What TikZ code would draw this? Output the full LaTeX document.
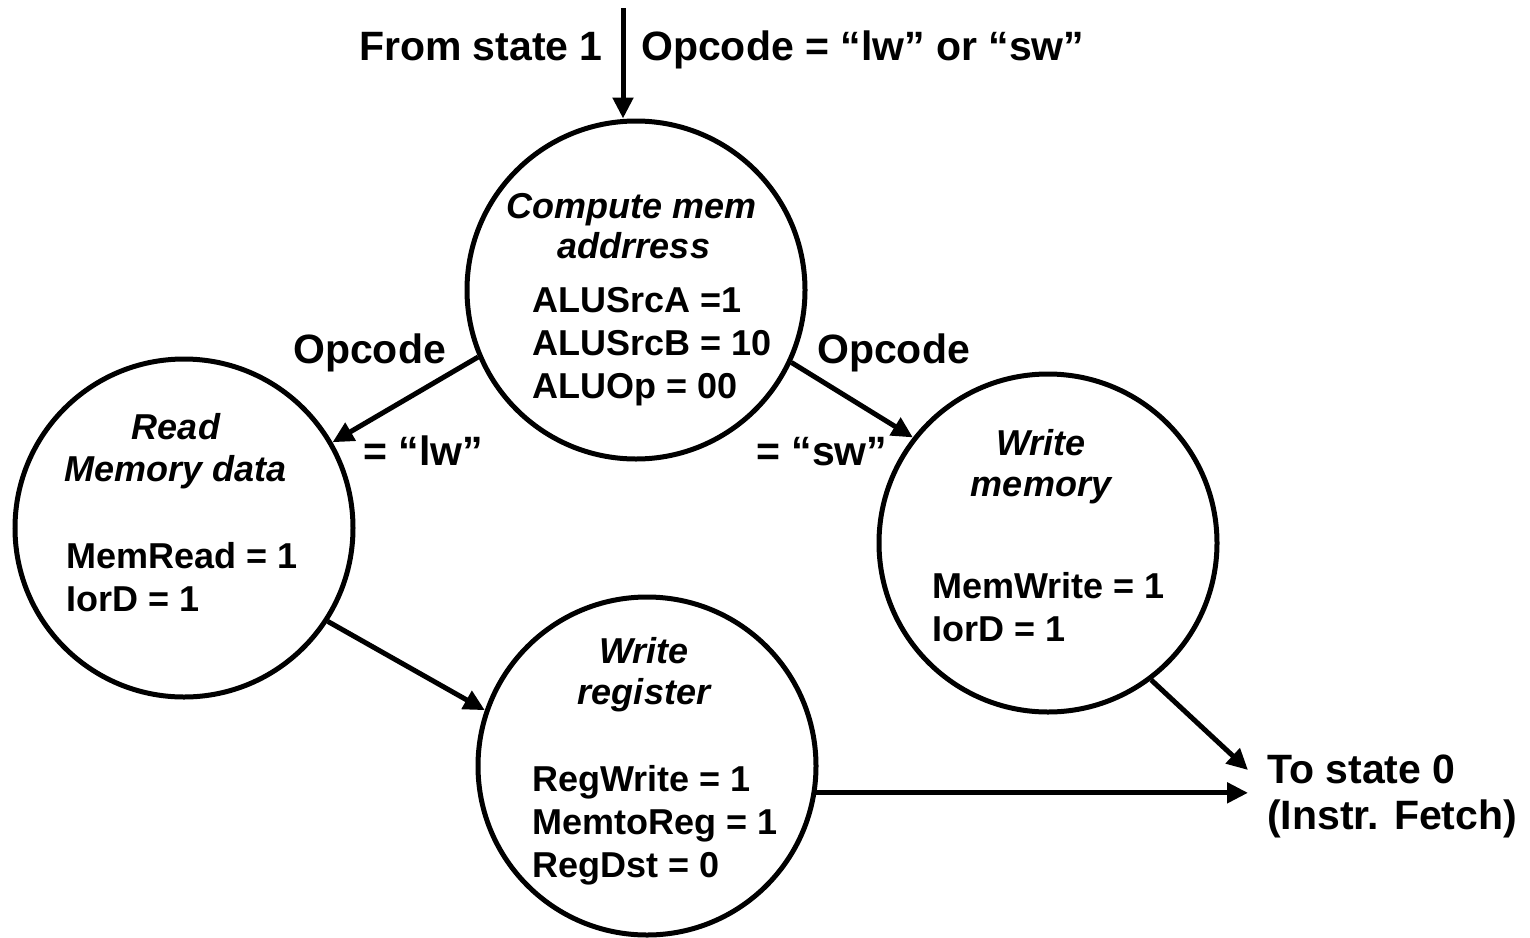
\documentclass[tikz,border=0pt]{standalone}
\usepackage{fontspec}
\setmainfont{Liberation Sans}
\usetikzlibrary{arrows.meta}
\begin{document}
\begin{tikzpicture}[x=1pt,y=-1pt,
  state/.style={circle,draw,line width=5pt,minimum size=338pt,inner sep=0pt},
  conn/.style={line width=5pt,-{Triangle[length=21pt,width=20pt]}},
  lab/.style={font=\fontsize{41}{48}\selectfont\bfseries,inner sep=0pt},
  ttl/.style={font=\fontsize{36}{42}\selectfont\bfseries\itshape,inner sep=0pt},
  txt/.style={font=\fontsize{36}{42}\selectfont\bfseries,inner sep=0pt}]
\useasboundingbox (0,0) rectangle (1530,937);

% states
\node[state] (cm) at (636,290) {};
\node[state] (rd) at (184,528) {};
\node[state] (wm) at (1048,543) {};
\node[state] (wr) at (647,766) {};

% state contents
\node[ttl,anchor=base] (cmt1) at (632,218) {Compute mem};
\node[ttl,anchor=base] (cmt2) at (634,258) {addrress};
\node[txt,anchor=base west] (cma) at (532,312) {ALUSrcA =1};
\node[txt,anchor=base west] (cmb) at (532,355) {ALUSrcB = 10};
\node[txt,anchor=base west] (cmc) at (532,398) {ALUOp = 00};

\node[ttl,anchor=base] (rdt1) at (176,439) {Read};
\node[ttl,anchor=base] (rdt2) at (176,481) {Memory data};
\node[txt,anchor=base west] (rda) at (66,568) {MemRead = 1};
\node[txt,anchor=base west] (rdb) at (66,611) {IorD = 1};

\node[ttl,anchor=base] (wmt1) at (1041,455) {Write};
\node[ttl,anchor=base] (wmt2) at (1041,496) {memory};
\node[txt,anchor=base west] (wma) at (932,598) {MemWrite = 1};
\node[txt,anchor=base west] (wmb) at (932,641) {IorD = 1};

\node[ttl,anchor=base] (wrt1) at (644,663) {Write};
\node[ttl,anchor=base] (wrt2) at (644,704) {register};
\node[txt,anchor=base west] (wra) at (532,791) {RegWrite = 1};
\node[txt,anchor=base west] (wrb) at (532,834) {MemtoReg = 1};
\node[txt,anchor=base west] (wrc) at (532,877) {RegDst = 0};

% transition labels
\node[lab,anchor=base east] (from) at (603,60) {From state 1};
\node[lab,anchor=base west] (cond) at (641,60) {Opcode = “lw” or “sw”};
\node[lab,anchor=base west] (oplw) at (293,363) {Opcode};
\node[lab,anchor=base west] (eqlw) at (363,465) {= “lw”};
\node[lab,anchor=base west] (opsw) at (817,363) {Opcode};
\node[lab,anchor=base west] (eqsw) at (756,465) {= “sw”};
\node[lab,anchor=base west] (to1) at (1267,783) {To state 0};
\node[lab,anchor=base west] (to2) at (1267,829) {(Instr. Fetch)};

% transitions
\coordinate (src) at (623,8);
\coordinate (t1) at (1248,770);
\coordinate (t2) at (1248,792);
\draw[conn] (src) -- (src |- cm.north);
\draw[conn] (cm.203.9) -- (rd.30.5);
\draw[conn] (cm.335.1) -- (wm.142.3);
\draw[conn] (rd.327.1) -- (wr.161.5);
\draw[conn] (wm.307.5) -- (t1);
\draw[conn] (wr.351) -- (wr.351 -| t2);
\end{tikzpicture}
\end{document}
